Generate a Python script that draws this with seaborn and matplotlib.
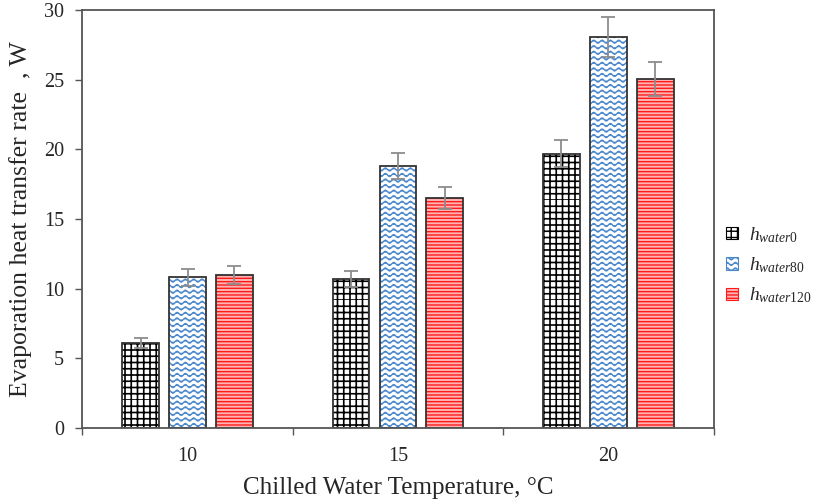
import warnings
warnings.filterwarnings("ignore")
import numpy as np
import pandas as pd
import matplotlib
matplotlib.use("Agg")
import matplotlib.pyplot as plt
import matplotlib.hatch as mhatch
import matplotlib.patches as mpatches
from matplotlib.path import Path
import seaborn as sns

# ---------------- data ----------------
temps = ["10", "15", "20"]
series = [r"$h_{\mathit{water0}}$", r"$h_{\mathit{water80}}$", r"$h_{\mathit{water120}}$"]
h_water0 = [6.1, 10.7, 19.7]
h_water80 = [10.8, 18.8, 28.05]
h_water120 = [10.95, 16.5, 25.05]
err_water0 = [0.35, 0.55, 0.95]
err_water80 = [0.6, 0.95, 1.45]
err_water120 = [0.65, 0.8, 1.25]


# ---------------- custom hatches ----------------
class WavyHatch(mhatch.HatchPatternBase):
    def __init__(self, hatch, density):
        self.num_lines = int(hatch.count('~') * density)
        self.periods = 12
        self.pts = self.periods * 8 + 1
        self.num_vertices = self.num_lines * self.pts

    def set_vertices_and_codes(self, vertices, codes):
        x = np.linspace(0, 1, self.pts)
        amp = 0.015
        k = 0
        for i in range(self.num_lines):
            y = (i + 0.5) / self.num_lines + amp * np.sin(2 * np.pi * self.periods * x)
            vertices[k:k + self.pts, 0] = x
            vertices[k:k + self.pts, 1] = y
            codes[k] = Path.MOVETO
            codes[k + 1:k + self.pts] = Path.LINETO
            k += self.pts


class GridHatch(mhatch.HatchPatternBase):
    def __init__(self, hatch, density):
        self.num_lines = hatch.count('#') * 16
        self.num_vertices = self.num_lines * 4

    def set_vertices_and_codes(self, vertices, codes):
        k = 0
        for i in range(self.num_lines):
            p = i / self.num_lines
            vertices[k:k + 4] = [[0, p], [1, p], [p, 0], [p, 1]]
            codes[k:k + 4] = [Path.MOVETO, Path.LINETO, Path.MOVETO, Path.LINETO]
            k += 4


mhatch._hatch_types.append(WavyHatch)
mhatch._hatch_types.append(GridHatch)

sns.set_style("white")
plt.rcParams["font.family"] = ["Liberation Serif", "DejaVu Serif"]
plt.rcParams["mathtext.fontset"] = "custom"
plt.rcParams["mathtext.rm"] = "Liberation Serif"
plt.rcParams["mathtext.it"] = "Liberation Serif:italic"
plt.rcParams["hatch.linewidth"] = 1.0

df = pd.DataFrame({
    "temp": np.repeat(temps, 3),
    "series": series * 3,
    "value": [v for trip in zip(h_water0, h_water80, h_water120) for v in trip],
})

styles = [
    dict(face="white", hatch_col="black", hatch="#", hlw=1.2),
    dict(face="white", hatch_col="#4a88cc", hatch="~~~", hlw=1.0),
    dict(face="#ffb3b3", hatch_col="#ff1a1a", hatch="-----", hlw=1.0),
]
errs = [err_water0, err_water80, err_water120]

fig = plt.figure(figsize=(8.23, 5.04), dpi=100)
ax = fig.add_axes([0.1, 0.151, 0.767, 0.829])

sns.barplot(data=df, x="temp", y="value", hue="series", order=temps,
            hue_order=series, width=0.668, gap=0.215, errorbar=None,
            palette=["white", "white", "white"], legend=False, ax=ax)

bar_containers = list(ax.containers)
for i, cont in enumerate(bar_containers):
    st = styles[i]
    xs, ys = [], []
    for bar in cont:
        bar.set_facecolor(st["face"])
        bar.set_edgecolor(st["hatch_col"])
        bar.set_hatch(st["hatch"])
        bar.set_linewidth(0)
        if hasattr(bar, "set_hatch_linewidth"):
            bar.set_hatch_linewidth(st["hlw"])
        outline = mpatches.Rectangle((bar.get_x(), bar.get_y()), bar.get_width(),
                                     bar.get_height(), fill=False,
                                     edgecolor="#333333", linewidth=1.3, zorder=bar.get_zorder() + 0.1)
        ax.add_patch(outline)
        xs.append(bar.get_x() + bar.get_width() / 2)
        ys.append(bar.get_height())
    ax.errorbar(xs, ys, yerr=errs[i], fmt="none", ecolor="#8c8c8c",
                elinewidth=1.3, capsize=5, capthick=1.3, zorder=5)

ax.set_ylim(0, 30)
ax.set_xlim(-0.5, 2.5)
ax.set_yticks(np.arange(0, 31, 5))
ax.tick_params(axis="y", direction="out", length=5, width=1, color="#555555",
               labelsize=14.5, pad=8, left=True)
ax.set_xticks([-0.5, 0.5, 1.5, 2.5])
ax.set_xticklabels([])
ax.set_xticks([0, 1, 2], minor=True)
ax.set_xticklabels(temps, minor=True)
ax.tick_params(axis="x", which="major", direction="out", length=5, width=1,
               color="#555555", bottom=True)
ax.tick_params(axis="x", which="minor", length=0, labelsize=14.5, pad=14)

for sp in ax.spines.values():
    sp.set_visible(True)
    sp.set_color("#555555")
    sp.set_linewidth(1.3)

ax.set_xlabel("Chilled Water Temperature, \u00b0C", fontsize=18, labelpad=8)
ax.set_ylabel("Evaporation heat transfer rate  , W", fontsize=18.5, labelpad=9)

handles = []
for st in styles:
    p = mpatches.Patch(facecolor=st["face"], edgecolor=st["hatch_col"], hatch=st["hatch"],
                       linewidth=0.8)
    handles.append(p)
leg = fig.legend(handles, series, loc="center left", bbox_to_anchor=(0.882, 0.474),
                 frameon=False, fontsize=14, handlelength=0.6, handleheight=0.6,
                 handletextpad=0.6, labelspacing=0.55, borderpad=0, borderaxespad=0)

fig.savefig("out.png", dpi=100)
